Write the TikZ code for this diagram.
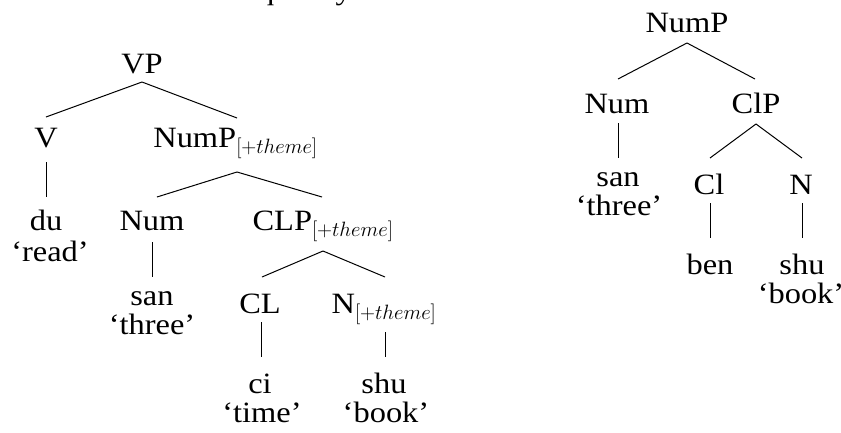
\documentclass[tikz,border=0pt]{standalone}
\usepackage{fontspec}
\setmainfont[FakeStretch=1.1]{Liberation Serif}
\usetikzlibrary{calc}
\tikzset{
  lbl/.style={inner sep=0pt, outer sep=0pt, anchor=base, font=\fontsize{29.5}{29}\selectfont},
  branch/.style={draw=black, line width=1pt}
}
\newcommand{\thm}{$_{[+theme]}$}
\begin{document}
\begin{tikzpicture}[x=1pt,y=-1pt]
\useasboundingbox (0,0) rectangle (841,432);
\fill[white] (0,0) rectangle (841,432);
% clipped line of running text above the picture
\begin{scope}
\clip (0,0) rectangle (841,432);
\node[lbl, anchor=base west] (runtext) at (222,-1) {frequency};
\end{scope}
% ---------- left tree ----------
\node[lbl] (VP) at (142,73) {VP};
\node[lbl] (V) at (46,147) {V};
\node[lbl] (NumPt) at (235.5,147) {NumP\thm};
\node[lbl] (du) at (46,230) {du};
\node[lbl] (duGl) at (50,261) {‘read’};
\node[lbl] (NumL) at (152,230) {Num};
\node[lbl] (CLP) at (323,230) {CLP\thm};
\node[lbl] (sanL) at (152,305) {san};
\node[lbl] (sanLGl) at (152,334) {‘three’};
\node[lbl] (CL) at (260,313) {CL};
\node[lbl] (Nt) at (384,313) {N\thm};
\node[lbl] (ci) at (260,393) {ci};
\node[lbl] (ciGl) at (262,422) {‘time’};
\node[lbl] (shuL) at (384,393) {shu};
\node[lbl] (shuLGl) at (386,422) {‘book’};
\draw[branch] ($(VP.base)+(0,9)$) -- ($(V.base)+(0,-30)$);
\draw[branch] ($(VP.base)+(0,9)$) -- ($(NumPt.base)+(1.5,-29)$);
\draw[branch] ($(V.base)+(0,15)$) -- ($(du.base)+(0,-33)$);
\draw[branch] ($(NumPt.base)+(1.5,25)$) -- ($(NumL.base)+(5,-33)$);
\draw[branch] ($(NumPt.base)+(1.5,25)$) -- ($(CLP.base)+(-1,-33)$);
\draw[branch] ($(NumL.base)+(0,12)$) -- ($(sanL.base)+(0,-28)$);
\draw[branch] ($(CLP.base)+(0,21)$) -- ($(CL.base)+(2,-36)$);
\draw[branch] ($(CLP.base)+(0,21)$) -- ($(Nt.base)+(1,-36)$);
\draw[branch] ($(CL.base)+(1,9)$) -- ($(ci.base)+(1,-36)$);
\draw[branch] ($(Nt.base)+(1,19)$) -- ($(shuL.base)+(1,-36)$);
% ---------- right tree ----------
\node[lbl] (NumPR) at (687,32) {NumP};
\node[lbl] (NumR) at (617,113) {Num};
\node[lbl] (ClP) at (756,113) {ClP};
\node[lbl] (sanR) at (618,186) {san};
\node[lbl] (sanRGl) at (619,215) {‘three’};
\node[lbl] (Cl) at (709,194) {Cl};
\node[lbl] (NR) at (801,194) {N};
\node[lbl] (ben) at (710,274) {ben};
\node[lbl] (shuR) at (802,274) {shu};
\node[lbl] (shuRGl) at (801,303) {‘book’};
\draw[branch] ($(NumPR.base)+(0,11)$) -- ($(NumR.base)+(1,-34)$);
\draw[branch] ($(NumPR.base)+(0,11)$) -- ($(ClP.base)+(-1,-34)$);
\draw[branch] ($(NumR.base)+(1,10)$) -- ($(sanR.base)+(0,-28)$);
\draw[branch] ($(ClP.base)+(0,11)$) -- ($(Cl.base)+(1,-36)$);
\draw[branch] ($(ClP.base)+(0,11)$) -- ($(NR.base)+(1,-36)$);
\draw[branch] ($(Cl.base)+(1,9)$) -- ($(ben.base)+(0,-36)$);
\draw[branch] ($(NR.base)+(1,9)$) -- ($(shuR.base)+(0,-36)$);
\end{tikzpicture}
\end{document}
